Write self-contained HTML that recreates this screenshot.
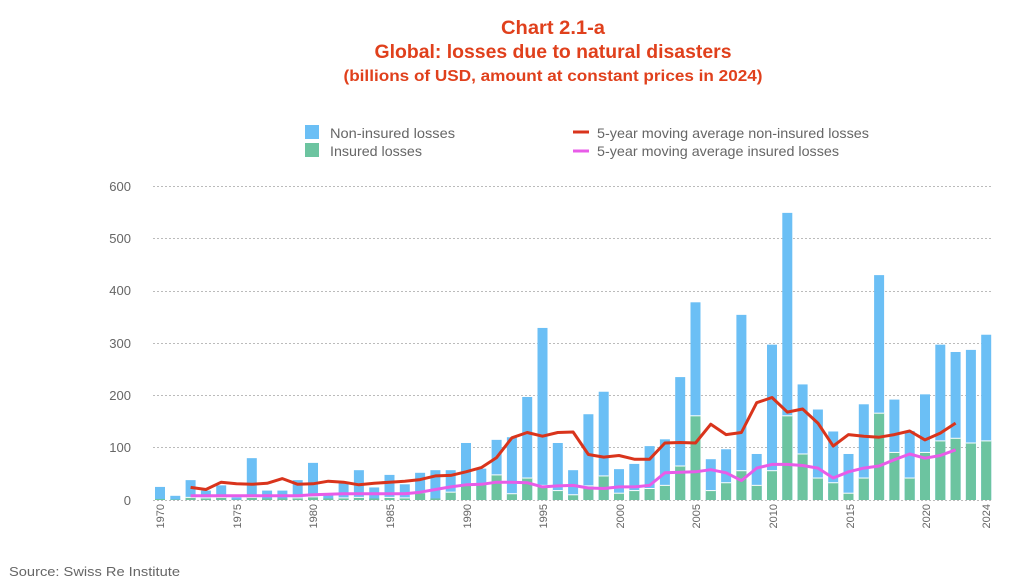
<!DOCTYPE html>
<html><head><meta charset="utf-8"><style>
html,body{margin:0;padding:0;background:#fff;width:1021px;height:580px;overflow:hidden}
svg{display:block}
text{font-family:"Liberation Sans","DejaVu Sans",sans-serif}
</style></head><body>
<svg id="s" width="1021" height="580" viewBox="0 0 1021 580" xmlns="http://www.w3.org/2000/svg">
<g fill="#e0401c" font-weight="bold" text-anchor="middle">
<text x="553" y="34" font-size="19" textLength="104" lengthAdjust="spacingAndGlyphs">Chart 2.1-a</text>
<text x="553" y="58" font-size="19" textLength="357" lengthAdjust="spacingAndGlyphs">Global: losses due to natural disasters</text>
<text x="553" y="81" font-size="16" textLength="419" lengthAdjust="spacingAndGlyphs">(billions of USD, amount at constant prices in 2024)</text>
</g>
<rect x="305" y="125" width="14" height="14" fill="#6bbff5"/>
<rect x="305" y="143" width="14" height="14" fill="#6cc4a0"/>
<line x1="573" y1="132" x2="589" y2="132" stroke="#d9341c" stroke-width="3"/>
<line x1="573" y1="151" x2="589" y2="151" stroke="#e85ce8" stroke-width="3"/>
<g fill="#666" font-size="14">
<text x="330" y="138" textLength="125" lengthAdjust="spacingAndGlyphs">Non-insured losses</text>
<text x="330" y="156" textLength="92" lengthAdjust="spacingAndGlyphs">Insured losses</text>
<text x="597" y="138" textLength="272" lengthAdjust="spacingAndGlyphs">5-year moving average non-insured losses</text>
<text x="597" y="156" textLength="242" lengthAdjust="spacingAndGlyphs">5-year moving average insured losses</text>
</g>
<g fill="#666" font-size="13" text-anchor="end">
<text x="131" y="191">600</text><text x="131" y="243">500</text><text x="131" y="295">400</text>
<text x="131" y="348">300</text><text x="131" y="400">200</text><text x="131" y="452">100</text><text x="131" y="505">0</text>
</g>
<g stroke="#bbb" stroke-width="1" stroke-dasharray="2,2">
<line x1="153" y1="186.5" x2="992" y2="186.5"/><line x1="153" y1="238.5" x2="992" y2="238.5"/>
<line x1="153" y1="291.5" x2="992" y2="291.5"/><line x1="153" y1="343.5" x2="992" y2="343.5"/>
<line x1="153" y1="395.5" x2="992" y2="395.5"/><line x1="153" y1="447.5" x2="992" y2="447.5"/>
<line x1="153" y1="500.5" x2="992" y2="500.5"/>
</g>
<g id="bars"></g>
<g fill="#666" font-size="11" text-anchor="end">
<text transform="translate(164,504) rotate(-90)">1970</text>
<text transform="translate(241,504) rotate(-90)">1975</text>
<text transform="translate(317,504) rotate(-90)">1980</text>
<text transform="translate(394,504) rotate(-90)">1985</text>
<text transform="translate(471,504) rotate(-90)">1990</text>
<text transform="translate(547,504) rotate(-90)">1995</text>
<text transform="translate(624,504) rotate(-90)">2000</text>
<text transform="translate(700,504) rotate(-90)">2005</text>
<text transform="translate(777,504) rotate(-90)">2010</text>
<text transform="translate(854,504) rotate(-90)">2015</text>
<text transform="translate(930,504) rotate(-90)">2020</text>
<text transform="translate(990,504) rotate(-90)">2024</text>
</g>
<text x="9" y="576" fill="#666" font-size="13" textLength="171" lengthAdjust="spacingAndGlyphs">Source: Swiss Re Institute</text>
</svg>
<script>
var T=[25,8,38,18,28,5,80,18,18,38,71,10,32,57,24,48,30,52,57,57,109,60,115,120,197,329,109,57,164,207,59,69,103,116,235,378,78,97,354,88,297,549,221,173,131,88,183,430,192,132,202,297,283,287,316];
var I=[2,1,5,4,5,1,5,3,3,4,6,3,4,5,3,5,4,14,3,15,28,30,48,12,42,28,18,10,27,46,13,18,22,28,65,161,18,33,56,28,56,161,88,42,33,13,42,166,91,42,91,113,118,109,113];
var R=[24,20,34,31,30,32,41,30,31,36,34,29,32,34,36,39,46,47,54,62,81,119,129,122,129,130,87,82,85,78,78,109,110,109,145,125,129,186,196,168,174,147,103,125,122,120,125,132,115,128,147];
var M=[8,8,8,8,8,8,8,8,10,11,12,12,12,12,12,15,20,25,29,30,34,34,33,25,27,28,23,22,25,25,28,52,53,54,58,52,37,61,68,68,66,61,42,54,61,65,77,88,80,85,96];
var g=document.getElementById('bars'),ns='http://www.w3.org/2000/svg',h='';
function X(i){return 160+15.3*i}function Y(v){return 500-v*0.523}
for(var i=0;i<T.length;i++){var x=X(i)-5;
h+='<rect x="'+x+'" y="'+Y(T[i])+'" width="10" height="'+(T[i]*0.523)+'" fill="#6bbff5"/>';
h+='<rect x="'+x+'" y="'+Y(I[i])+'" width="10" height="'+(I[i]*0.523)+'" fill="#6cc4a0"/>';
if(I[i]>3)h+='<line x1="'+x+'" x2="'+(x+10)+'" y1="'+Y(I[i])+'" y2="'+Y(I[i])+'" stroke="#fff" stroke-width="1"/>';}
function P(a,c){var p=[];for(var i=0;i<a.length;i++)p.push(X(i+2).toFixed(1)+','+Y(a[i]).toFixed(1));return '<polyline points="'+p.join(' ')+'" fill="none" stroke="'+c+'" stroke-width="3" stroke-linejoin="round"/>';}
h+=P(M,'#e85ce8')+P(R,'#d9341c');
g.innerHTML=h;
</script>
</body></html>
